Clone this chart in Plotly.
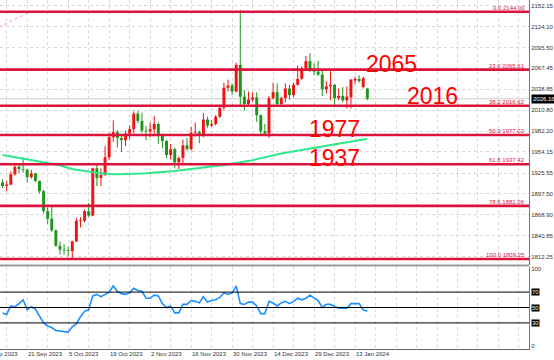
import plotly.graph_objects as go

# ---------------- data ----------------
bar_index = list(range(-1, 89))
opens = [1913,1908,1910,1924,1934,1931,1930,1920,1925,1915,1901,1874,1864,1848,1827,1822,1821,1820,1833,1861,1861,1874,
         1868,1932,1919,1923,1947,1974,1981,1973,1970,1979,1985,2006,1996,1983,1982,1985,1992,1978,1969,1950,1958,1940,
         1946,1963,1958,1980,1981,1978,1998,1990,1992,2002,2014,2041,2044,2036,2072,2029,2019,2025,2028,2004,1982,1979,
         2027,2035,2019,2027,2040,2031,2045,2053,2067,2077,2064,2063,2059,2039,2043,2045,2027,2030,2024,2028,2051,2053,
         2042,2040]
highs = [1917,1915,1928,1937,1937,1947,1931,1930,1926,1915,1903,1879,1880,1849,1833,1829,1826,1834,1865,1866,1876,1885,
         1933,1937,1932,1962,1980,1997,1984,1978,1983,1990,2009,2010,2007,1989,1994,2003,1994,1979,1970,1965,1960,1948,
         1971,1973,1988,1994,1983,2007,2002,1997,2004,2018,2048,2052,2047,2075,2146,2038,2036,2035,2035,2005,1992,2030,
         2048,2047,2029,2047,2045,2048,2071,2070,2084,2088,2074,2078,2065,2050,2064,2046,2040,2042,2043,2053,2056,2058,
         2056,2041]
lows = [1905,1901,1909,1922,1926,1926,1913,1918,1913,1898,1871,1857,1846,1826,1815,1815,1813,1810,1832,1852,1859,1866,
        1867,1908,1908,1922,1943,1968,1960,1954,1962,1971,1979,1993,1980,1970,1974,1979,1965,1959,1946,1944,1932,1931,
        1939,1956,1956,1975,1966,1974,1987,1988,1990,2000,2011,2036,2031,2035,2015,2010,2016,2022,1995,1976,1976,1973,
        2025,2015,2016,2021,2025,2028,2044,2052,2064,2062,2058,2057,2030,2033,2024,2017,2024,2021,2013,2013,2046,2048,
        2040,2024]
closes = [1908,1910,1924,1934,1931,1930,1920,1925,1915,1901,1874,1864,1848,1827,1822,1821,1820,1833,1861,1861,1874,1868,
          1932,1919,1923,1947,1974,1981,1973,1970,1979,1985,2006,1996,1983,1982,1985,1992,1978,1969,1950,1958,1940,1946,
          1963,1958,1980,1981,1978,1998,1990,1992,2002,2014,2041,2044,2036,2072,2029,2019,2025,2028,2004,1982,1979,2027,
          2035,2019,2027,2040,2031,2045,2053,2067,2077,2064,2063,2059,2039,2043,2045,2027,2030,2024,2029,2052,2053,2050,
          2054,2026.16]
ma_values = [1950,1949,1948,1947,1946,1945.5,1945,1944,1943,1942,1941,1939.6,1938.4,1937.2,1936,1934,1932,1931,1930,1929,
             1928,1927,1926.4,1925.8,1925.2,1924.6,1924.2,1924,1924,1924,1924.2,1924.4,1924.6,1924.8,1925,1925.3,1925.6,
             1926,1926.4,1926.8,1927.3,1927.8,1928.3,1928.9,1929.5,1930.2,1930.9,1931.6,1932.3,1933,1933.7,1934.4,1935.1,
             1935.8,1936.6,1937.4,1938.2,1939,1940,1941,1942,1943,1944.4,1945.8,1947.2,1948.6,1950,1951,1952,1953,1954,
             1955,1956,1957,1958,1959,1960,1961,1962,1963,1964,1965,1966,1967,1968,1969,1969.5,1970.3,1971,1971.7,1972.4]
rsi_values = [43,41,52,51,55,60,47,51,48,38,30,26,24,20,19.5,18.5,18,25,29,38,45,47,65,67,64,67,70,78,71,68,67,69,75,72,
              71,62,62,66,65,55,50,52,43,43,54,54,59,58,56,64,57,59,60,63,69,67,69,78,55,54,57,57,52,42,42,58,56,52,56,58,
              55,58,62,60,62,66,62,59,50,54,54,51,49,49,49,55,55,55,47,45]

current_price = 2026.16
fib_levels = [2144.00, 2065.61, 2016.62, 1977.02, 1937.42, 1881.06, 1809.25]
fib_names = ["0.0", "23.6", "38.2", "50.0", "61.8", "78.6", "100.0"]
price_ticks = [2152.15, 2124.10, 2095.50, 2067.45, 2038.85, 2010.80, 1982.20, 1954.15,
               1925.55, 1897.50, 1868.90, 1840.85, 1812.25]
date_labels = ["7 Sep 2023", "21 Sep 2023", "5 Oct 2023", "19 Oct 2023", "2 Nov 2023",
               "16 Nov 2023", "30 Nov 2023", "14 Dec 2023", "29 Dec 2023", "13 Jan 2024"]
date_label_bars = [-5, 5, 15, 25, 35, 45, 55, 65, 75, 85]
rsi_levels = [70, 50, 30]
big_labels = ["2065", "2016", "1977", "1937"]
big_label_bars = [93.9, 104.0, 80.1, 80.1]
big_label_prices = [2073.5, 2029.5, 1985.0, 1946.0]
trend_bars = [-2.0, 5.7]
trend_prices = [2123.0, 2144.0]

# ---------------- styling ----------------
W, H = 554, 360
UP, DOWN = "#f01414", "#1e961e"
FIB = "#dc143c"
FONT = "Liberation Sans"
x_dom = [0, 529 / W]
main_dom = [1 - 265 / H, 1]
ind_dom = [1 - 349 / H, 1 - 267 / H]
x_range = [-1.635, 127.45]
y_range = [1801.06, 2159.87]
ind_range = [-3.9, 102.6]


def bar_to_paper(b):
    """map a bar index to paper x using the x axis range/domain"""
    frac = (b - x_range[0]) / (x_range[1] - x_range[0])
    return x_dom[0] + frac * (x_dom[1] - x_dom[0])


fig = go.Figure()

# candle bodies
body_base, body_len, body_col = [], [], []
for o, c in zip(opens, closes):
    body_base.append(min(o, c))
    body_len.append(max(abs(c - o), 1.0))
    body_col.append(UP if c >= o else DOWN)
fig.add_trace(go.Bar(x=bar_index, y=body_len, base=body_base, width=0.72,
                     marker=dict(color=body_col, line=dict(width=0)),
                     xaxis="x", yaxis="y", showlegend=False, hoverinfo="skip"))

# wicks
for col in (UP, DOWN):
    wx, wy = [], []
    for i, o, h, l, c in zip(bar_index, opens, highs, lows, closes):
        if (UP if c >= o else DOWN) == col:
            wx += [i, i, None]
            wy += [l, h, None]
    fig.add_trace(go.Scatter(x=wx, y=wy, mode="lines", line=dict(color=col, width=1),
                             xaxis="x", yaxis="y", showlegend=False, hoverinfo="skip"))

# moving average
fig.add_trace(go.Scatter(x=bar_index, y=ma_values, mode="lines",
                         line=dict(color="#2ee88a", width=2), xaxis="x", yaxis="y",
                         showlegend=False, hoverinfo="skip"))

# fib trend line (dotted)
fig.add_trace(go.Scatter(x=trend_bars, y=trend_prices, mode="lines",
                         line=dict(color="#ff9aa8", width=1, dash="dot"), xaxis="x", yaxis="y",
                         showlegend=False, hoverinfo="skip"))

# RSI
fig.add_trace(go.Scatter(x=bar_index, y=rsi_values, mode="lines",
                         line=dict(color="#1e90ff", width=1.6), xaxis="x2", yaxis="y2",
                         showlegend=False, hoverinfo="skip"))

shapes = []
annotations = []

# current price line
shapes.append(dict(type="line", xref="x domain", yref="y", x0=0, x1=1, y0=current_price, y1=current_price,
                   line=dict(color="#d0d0d0", width=1), layer="below"))

# fib levels
for name, lv in zip(fib_names, fib_levels):
    shapes.append(dict(type="line", xref="x domain", yref="y", x0=0, x1=1, y0=lv, y1=lv,
                       line=dict(color=FIB, width=2.6)))
    annotations.append(dict(xref="x domain", yref="y", x=0.997, y=lv, xanchor="right", yanchor="bottom",
                            text=f"{name} {lv:.2f}", showarrow=False,
                            font=dict(family=FONT, size=6, color=FIB), yshift=-1))

# rsi levels
for lv in rsi_levels:
    shapes.append(dict(type="line", xref="x2 domain", yref="y2", x0=0, x1=1, y0=lv, y1=lv,
                       line=dict(color="#000000", width=1)))
    annotations.append(dict(xref="paper", yref="y2", x=531 / W, y=lv, xanchor="left", yanchor="middle",
                            text=str(lv), showarrow=False, bgcolor="#000000", borderpad=0,
                            font=dict(family=FONT, size=6, color="#ffffff")))

# pane separator
shapes.append(dict(type="line", xref="paper", yref="paper", x0=0, x1=529 / W,
                   y0=1 - 265.5 / H, y1=1 - 265.5 / H, line=dict(color="#9a9a9a", width=2)))

# current price tag
annotations.append(dict(xref="paper", yref="y", x=530.5 / W, y=current_price, xanchor="left", yanchor="middle",
                        text=f"{current_price:.2f}", showarrow=False, bgcolor="#000000", borderpad=1,
                        font=dict(family=FONT, size=6, color="#ffffff")))

# big level labels
for t, bx, bp in zip(big_labels, big_label_bars, big_label_prices):
    annotations.append(dict(xref="x", yref="y", x=bx, y=bp, text=t, showarrow=False,
                            xanchor="center", yanchor="middle",
                            font=dict(family=FONT, size=23, color="#ff0000")))

# date labels (left-aligned at their bar, as the terminal draws them)
for t, b in zip(date_labels, date_label_bars):
    annotations.append(dict(xref="paper", yref="paper", x=bar_to_paper(b), y=1 - 354 / H, text=t,
                            showarrow=False, xanchor="left", yanchor="middle", xshift=-1,
                            font=dict(family=FONT, size=6, color="#333333")))

grid_vals = list(range(-5, 130, 5))
fig.update_layout(
    width=W, height=H, margin=dict(l=0, r=0, t=0, b=0),
    paper_bgcolor="#ffffff", plot_bgcolor="#ffffff",
    barmode="overlay", showlegend=False, hovermode=False,
    font=dict(family=FONT, size=6, color="#333333"),
    xaxis=dict(domain=x_dom, range=x_range, anchor="y", tickvals=grid_vals, showticklabels=False,
               showgrid=True, gridcolor="#d8d8d8", griddash="dot", gridwidth=1, zeroline=False,
               showline=False, ticks=""),
    xaxis2=dict(domain=x_dom, range=x_range, anchor="y2", matches="x", tickvals=grid_vals,
                showticklabels=False, showgrid=True, gridcolor="#d8d8d8", griddash="dot", gridwidth=1,
                zeroline=False, showline=True, linecolor="#666666", linewidth=1, ticks=""),
    yaxis=dict(domain=main_dom, range=y_range, anchor="x", side="right", tickvals=price_ticks,
               ticktext=[f"{v:.2f}" for v in price_ticks], showgrid=True, gridcolor="#d8d8d8",
               griddash="dot", zeroline=False, showline=True, linecolor="#777777", linewidth=1,
               ticks="", tickfont=dict(family=FONT, size=6, color="#333333")),
    yaxis2=dict(domain=ind_dom, range=ind_range, anchor="x2", side="right", tickvals=[100, 0],
                ticktext=["100", "0"], showgrid=False, zeroline=False, showline=True,
                linecolor="#777777", linewidth=1, ticks="",
                tickfont=dict(family=FONT, size=6, color="#333333")),
    shapes=shapes, annotations=annotations,
)

fig.write_html("out.html", config={"displayModeBar": False, "staticPlot": True},
               post_script="document.body.style.margin='0px';")
